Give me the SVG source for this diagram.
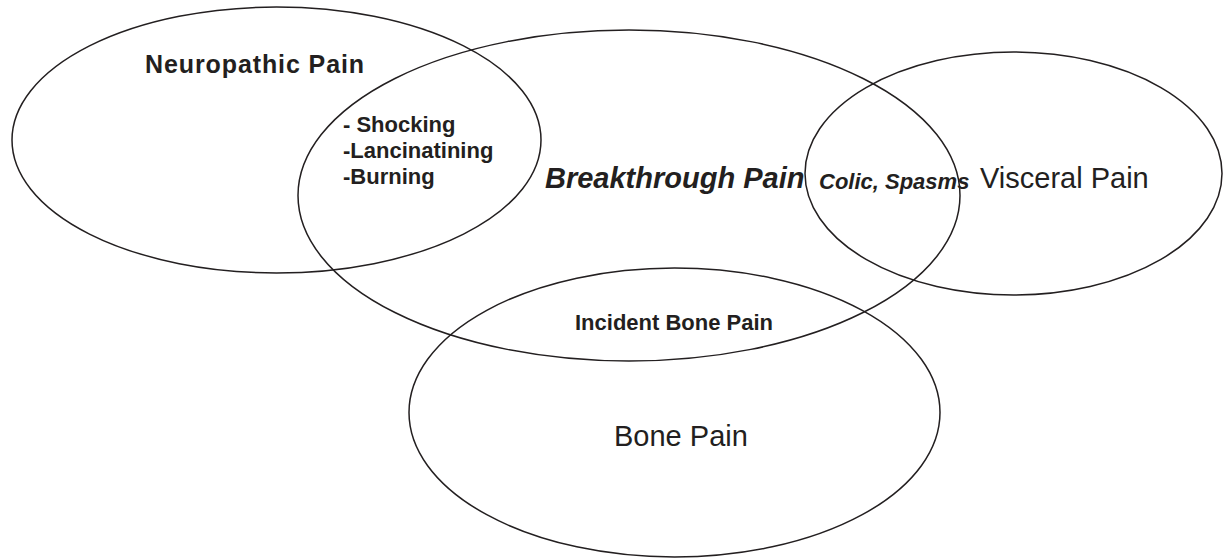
<svg xmlns="http://www.w3.org/2000/svg" width="1223" height="558" viewBox="0 0 1223 558">
<style>
.e{fill:none;stroke:#231f20;stroke-width:1.5}
text{font-family:"Liberation Sans",Arial,sans-serif;fill:#231f20}
.b{font-weight:bold}
.bi{font-weight:bold;font-style:italic}
</style>
<rect width="1223" height="558" fill="#fff"/>
<g id="neuropathic">
<ellipse class="e" cx="276.5" cy="140" rx="264.5" ry="133"/>
<text class="b" x="145" y="73" font-size="25" letter-spacing="0.9">Neuropathic Pain</text>
<text class="b" x="343" y="132" font-size="22">- Shocking</text>
<text class="b" x="343" y="158" font-size="22">-Lancinatining</text>
<text class="b" x="343" y="184" font-size="22">-Burning</text>
</g>
<g id="breakthrough">
<ellipse class="e" cx="629" cy="195.5" rx="331" ry="165.5"/>
<text class="bi" x="545" y="188" font-size="29">Breakthrough Pain</text>
</g>
<g id="visceral">
<ellipse class="e" cx="1013.5" cy="173.5" rx="208.5" ry="121.5"/>
<text class="bi" x="819" y="189" font-size="22">Colic, Spasms</text>
<text x="980" y="188" font-size="29">Visceral Pain</text>
</g>
<g id="bone">
<ellipse class="e" cx="674.5" cy="412.5" rx="265.5" ry="144.5"/>
<text class="b" x="575" y="330" font-size="22">Incident Bone Pain</text>
<text x="614" y="446" font-size="29">Bone Pain</text>
</g>
<g id="connectors"/>
</svg>
